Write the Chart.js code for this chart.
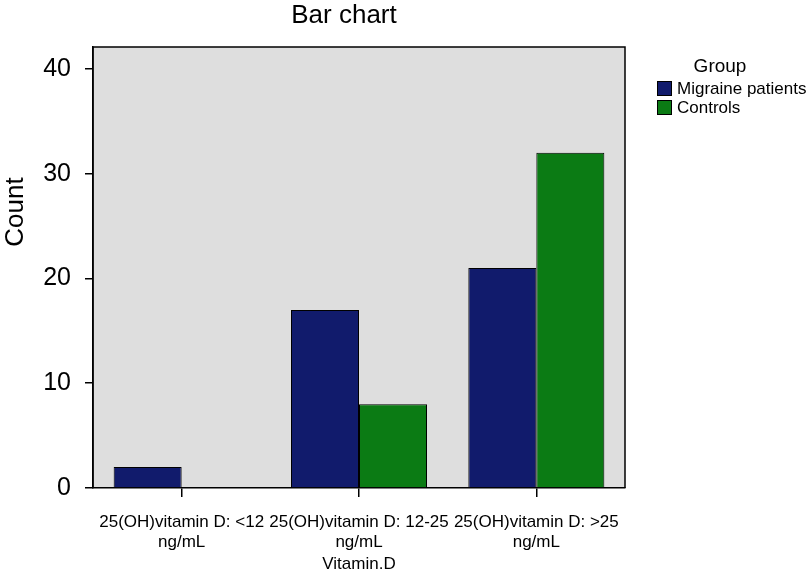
<!DOCTYPE html>
<html>
<head>
<meta charset="utf-8">
<title>Bar chart</title>
<script src="https://cdn.jsdelivr.net/npm/chart.js@4.4.1/dist/chart.umd.min.js"></script>
<style>
  html, body { margin: 0; padding: 0; background: #fff; }
  canvas { display: block; }
</style>
</head>
<body>
<canvas id="grafica" width="808" height="576"></canvas>
<script>
// datos
const categorias = [
    ['25(OH)vitamin D: <12', 'ng/mL'],
    ['25(OH)vitamin D: 12-25', 'ng/mL'],
    ['25(OH)vitamin D: >25', 'ng/mL']
];
const migrana = [2, 17, 21];
const controles = [0, 8, 32];
const ticksY = [0, 10, 20, 30, 40];

const fuente = "'Liberation Sans', Arial, sans-serif";
const azul = '#111b6c';
const verde = '#0b7b14';

// fondo gris, marco, titulo, etiqueta Count y leyenda
const decoracion = {
    id: 'decoracion',
    beforeDraw(chart) {
        const { ctx, chartArea: a } = chart;
        ctx.save();
        ctx.fillStyle = '#dedede';
        ctx.fillRect(a.left, a.top, a.right - a.left, a.bottom - a.top);
        ctx.restore();
    },
    afterDraw(chart) {
        const { ctx, chartArea: a } = chart;
        ctx.save();
        ctx.strokeStyle = '#000';
        ctx.lineWidth = 1.5;
        ctx.beginPath();
        ctx.moveTo(a.left, a.bottom);
        ctx.lineTo(a.left, a.top);
        ctx.lineTo(a.right, a.top);
        ctx.lineTo(a.right, a.bottom);
        ctx.stroke();

        ctx.fillStyle = '#000';
        ctx.textAlign = 'center';
        ctx.textBaseline = 'alphabetic';
        ctx.font = '26px ' + fuente;
        ctx.fillText('Bar chart', 344, 23);

        ctx.save();
        ctx.translate(23, 212);
        ctx.rotate(-Math.PI / 2);
        ctx.font = '26px ' + fuente;
        ctx.fillText('Count', 0, 0);
        ctx.restore();

        // leyenda
        ctx.font = '19px ' + fuente;
        ctx.textAlign = 'center';
        ctx.fillText('Group', 720, 72);
        ctx.font = '17px ' + fuente;
        ctx.textAlign = 'left';
        ctx.textBaseline = 'middle';
        chart.data.datasets.forEach((ds, i) => {
            const y = 81 + i * 19;
            ctx.fillStyle = ds.backgroundColor;
            ctx.fillRect(657, y, 15, 15);
            ctx.strokeStyle = '#000';
            ctx.lineWidth = 1;
            ctx.strokeRect(657.5, y + 0.5, 14, 14);
            ctx.fillStyle = '#000';
            ctx.fillText(ds.label, 677, y + 8);
        });
        ctx.restore();
    }
};

const ctx = document.getElementById('grafica');
new Chart(ctx, {
    type: 'bar',
    data: {
        labels: categorias,
        datasets: [{
            label: 'Migraine patients',
            data: migrana,
            backgroundColor: azul,
            borderColor: '#000',
            borderWidth: 1
        }, {
            label: 'Controls',
            data: controles,
            backgroundColor: verde,
            borderColor: '#000',
            borderWidth: 1
        }]
    },
    options: {
        responsive: false,
        animation: false,
        devicePixelRatio: 1,
        categoryPercentage: 0.767,
        barPercentage: 1,
        layout: {
            padding: { top: 47, right: 183, left: 0, bottom: 0 }
        },
        scales: {
            x: {
                grid: {
                    offset: false,
                    drawOnChartArea: false,
                    drawTicks: true,
                    tickLength: 9,
                    color: '#000',
                    lineWidth: 1.5
                },
                border: { display: true, color: '#000', width: 1.5 },
                ticks: {
                    color: '#000',
                    font: { family: fuente, size: 17 },
                    padding: 15,
                    maxRotation: 0,
                    autoSkip: false
                },
                title: {
                    display: true,
                    text: 'Vitamin.D',
                    color: '#000',
                    font: { family: fuente, size: 17 },
                    padding: { top: 2, bottom: 1 }
                },
                afterFit(scale) { scale.height = 88; }
            },
            y: {
                min: 0,
                max: 42.1,
                grid: {
                    drawOnChartArea: false,
                    drawTicks: true,
                    tickLength: 8,
                    color: '#000',
                    lineWidth: 1.5
                },
                border: { display: true, color: '#000', width: 1.5 },
                ticks: {
                    color: '#000',
                    font: { family: fuente, size: 25 },
                    padding: 14
                },
                afterBuildTicks(scale) {
                    scale.ticks = ticksY.map(v => ({ value: v }));
                },
                afterFit(scale) { scale.width = 93; }
            }
        },
        plugins: {
            legend: { display: false },
            title: { display: false },
            tooltip: { enabled: false }
        }
    },
    plugins: [decoracion]
});
</script>
</body>
</html>
